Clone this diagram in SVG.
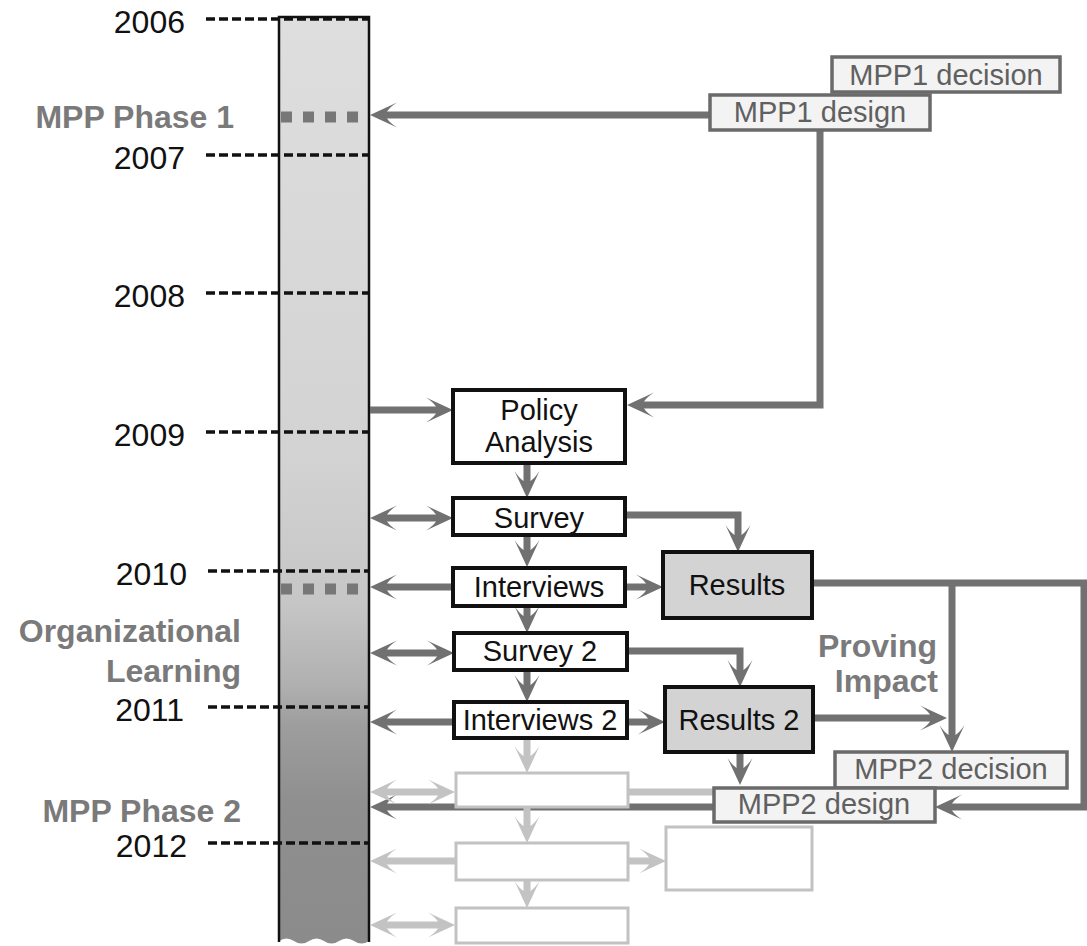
<svg xmlns="http://www.w3.org/2000/svg" width="1087" height="946" viewBox="0 0 1087 946">
<style>
text{font-family:"Liberation Sans",Arial,sans-serif}
.yr{font-size:32px;fill:#111;text-anchor:end}
.lbl{font-size:32px;font-weight:bold;fill:#7a7a7a;text-anchor:end}
.bt{font-size:29px;fill:#111;text-anchor:middle}
.mt{font-size:29px;fill:#606060;text-anchor:middle}
.box{fill:#fff;stroke:#111;stroke-width:4}
.res{fill:#d3d3d3;stroke:#111;stroke-width:4}
.mpp{fill:#f3f3f3;stroke:#6a6a6a;stroke-width:3.5}
.fbox{fill:#fff;stroke:#c2c2c2;stroke-width:3}
.dash{stroke:#111;stroke-width:3.5;stroke-dasharray:9 4;fill:none}
.sq{stroke:#777;stroke-width:11;stroke-dasharray:11 11;fill:none}
.c{fill:none;stroke:#717171;stroke-width:7}
.cl{fill:none;stroke:#c3c3c3;stroke-width:7}
.ae{marker-end:url(#ah)}
.ab{marker-start:url(#ah);marker-end:url(#ah)}
.le{marker-end:url(#ahl)}
.lb{marker-start:url(#ahl);marker-end:url(#ahl)}
</style>
<defs>
<linearGradient id="barg" gradientUnits="userSpaceOnUse" x1="0" y1="17" x2="0" y2="946">
<stop offset="0" stop-color="#dedede"/>
<stop offset="0.47" stop-color="#d3d3d3"/>
<stop offset="0.63" stop-color="#c6c6c6"/>
<stop offset="0.72" stop-color="#b0b0b0"/>
<stop offset="0.76" stop-color="#9e9e9e"/>
<stop offset="0.845" stop-color="#8f8f8f"/>
<stop offset="1" stop-color="#8b8b8b"/>
</linearGradient>
<marker id="ah" markerUnits="userSpaceOnUse" markerWidth="34" markerHeight="28" viewBox="0 -14 34 28" refX="19" refY="0" orient="auto-start-reverse">
<path d="M28,0 L1,-12.5 Q8,-8 11,-3.5 L11,3.5 Q8,8 1,12.5 Z" fill="#717171"/>
</marker>
<marker id="ahl" markerUnits="userSpaceOnUse" markerWidth="34" markerHeight="28" viewBox="0 -14 34 28" refX="19" refY="0" orient="auto-start-reverse">
<path d="M28,0 L1,-12.5 Q8,-8 11,-3.5 L11,3.5 Q8,8 1,12.5 Z" fill="#c3c3c3"/>
</marker>
</defs>
<rect width="1087" height="946" fill="#fff"/>

<g id="timeline">
<path d="M279,17 H369 V941 q-7.5,5 -15,0 t-15,0 t-15,0 t-15,0 t-15,0 t-15,0 Z" fill="url(#barg)"/>
<path d="M279,942 V17 H369 V942" fill="none" stroke="#111" stroke-width="2.5"/>
<path class="sq" d="M281,117 H360"/>
<path class="sq" d="M281,589 H360"/>
</g>

<g id="years">
<path class="dash" d="M206,19 H369"/>
<path class="dash" d="M206,155 H369"/>
<path class="dash" d="M206,293 H369"/>
<path class="dash" d="M206,432 H369"/>
<path class="dash" d="M208,571 H369"/>
<path class="dash" d="M208,707 H369"/>
<path class="dash" d="M208,843 H369"/>
<text class="yr" x="185" y="33">2006</text>
<text class="yr" x="185" y="169">2007</text>
<text class="yr" x="185" y="307">2008</text>
<text class="yr" x="185" y="446">2009</text>
<text class="yr" x="187" y="585">2010</text>
<text class="yr" x="184" y="721">2011</text>
<text class="yr" x="187" y="857">2012</text>
</g>

<g id="phase-labels">
<text class="lbl" x="234" y="128">MPP Phase 1</text>
<text class="lbl" x="241" y="642">Organizational</text>
<text class="lbl" x="241" y="682">Learning</text>
<text class="lbl" x="241" y="822">MPP Phase 2</text>
<text class="lbl" x="937" y="657">Proving</text>
<text class="lbl" x="938" y="692">Impact</text>
</g>

<g id="connectors">
<path class="c ae" d="M710,115 H379"/>
<path class="c ae" d="M820,130 V405 H636"/>
<path class="c ae" d="M370,410 H444"/>
<path class="c ae" d="M527,463 V489"/>
<path class="c ab" d="M379,518 H444"/>
<path class="c ae" d="M625,515 H738 V543"/>
<path class="c ae" d="M527,535 V558"/>
<path class="c ae" d="M453,587 H379"/>
<path class="c ae" d="M625,587 H654"/>
<path class="c ae" d="M812,583 H1084 V807 H944"/>
<path class="c ae" d="M952,583 V743"/>
<path class="c ae" d="M527,607 V624"/>
<path class="c ab" d="M379,653 H445"/>
<path class="c ae" d="M627,651 H740 V678"/>
<path class="c ae" d="M527,670 V693"/>
<path class="c ae" d="M454,722 H379"/>
<path class="c ae" d="M627,722 H656"/>
<path class="c ae" d="M813,718 H938"/>
<path class="c ae" d="M740,752 V776"/>
<path class="c ae" d="M714,807 H379"/>
<path class="cl le" d="M527,738 V764"/>
<path class="cl lb" d="M379,792 H446"/>
<path class="cl" d="M628,792 H720"/>
<path class="cl le" d="M527,807 V834"/>
<path class="cl le" d="M456,861 H379"/>
<path class="cl le" d="M628,861 H657"/>
<path class="cl le" d="M527,880 V899"/>
<path class="cl lb" d="M379,925 H446"/>
</g>

<g id="mpp1-decision">
<rect class="mpp" x="832" y="57" width="228" height="35"/>
<text class="mt" x="946" y="85">MPP1 decision</text>
</g>
<g id="mpp1-design">
<rect class="mpp" x="710" y="95" width="220" height="35"/>
<text class="mt" x="820" y="122">MPP1 design</text>
</g>
<g id="policy-analysis">
<rect class="box" x="453" y="390" width="172" height="73"/>
<text class="bt" x="539" y="420">Policy</text>
<text class="bt" x="539" y="452">Analysis</text>
</g>
<g id="survey">
<rect class="box" x="453" y="498" width="172" height="37"/>
<text class="bt" x="539" y="528">Survey</text>
</g>
<g id="interviews">
<rect class="box" x="453" y="568" width="172" height="38"/>
<text class="bt" x="539" y="597">Interviews</text>
</g>
<g id="results">
<rect class="res" x="663" y="552" width="149" height="66"/>
<text class="bt" x="737" y="595">Results</text>
</g>
<g id="survey-2">
<rect class="box" x="454" y="633" width="173" height="37"/>
<text class="bt" x="540" y="661">Survey 2</text>
</g>
<g id="interviews-2">
<rect class="box" x="454" y="702" width="173" height="36"/>
<text class="bt" x="540" y="730">Interviews 2</text>
</g>
<g id="results-2">
<rect class="res" x="665" y="687" width="148" height="65"/>
<text class="bt" x="739" y="730">Results 2</text>
</g>
<g id="mpp2-decision">
<rect class="mpp" x="835" y="752" width="232" height="36"/>
<text class="mt" x="951" y="779">MPP2 decision</text>
</g>
<g id="mpp2-design">
<rect class="mpp" x="714" y="788" width="221" height="34"/>
<text class="mt" x="824" y="814">MPP2 design</text>
</g>
<g id="future-1"><rect class="fbox" x="456" y="773" width="172" height="34"/></g>
<g id="future-2"><rect class="fbox" x="456" y="843" width="172" height="37"/></g>
<g id="future-3"><rect class="fbox" x="456" y="908" width="172" height="35"/></g>
<g id="future-results"><rect class="fbox" x="666" y="827" width="146" height="63"/></g>
</svg>
